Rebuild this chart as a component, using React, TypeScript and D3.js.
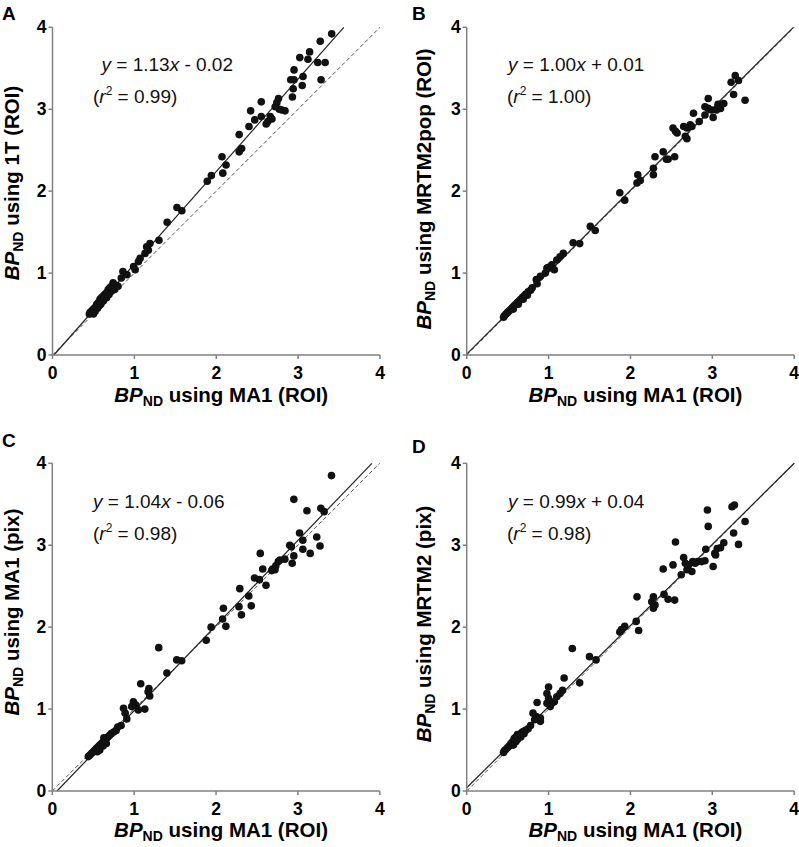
import React from 'react';
import * as d3 from 'd3';

const tickValues = [0, 1, 2, 3, 4];

const pointsA: [number, number][] = [
  [3.41,3.92],[3.27,3.83],[3.14,3.70],[3.02,3.63],[3.12,3.61],[3.24,3.57],[3.33,3.57],[2.95,3.48],[2.91,3.36],[2.95,3.36],
  [3.06,3.40],[3.28,3.36],[2.94,3.25],[3.05,3.29],[2.93,3.15],[2.76,3.13],[2.74,3.08],[2.72,3.03],[2.77,3.00],[2.80,2.99],
  [2.84,2.98],[2.55,3.09],[2.42,2.98],[2.55,2.91],[2.47,2.87],[2.66,2.91],[2.63,2.85],[2.61,2.82],[2.68,2.88],[2.40,2.79],
  [2.28,2.69],[2.31,2.52],[2.28,2.48],[2.07,2.42],[2.12,2.32],[2.08,2.22],[1.94,2.19],[1.89,2.12],[1.52,1.80],[1.58,1.76],
  [1.40,1.62],[1.30,1.40],[1.19,1.36],[1.15,1.32],[1.17,1.28],[1.13,1.24],[1.07,1.18],[1.05,1.14],[0.99,1.08],[1.01,1.04],
  [0.86,1.02],[0.91,0.98],[0.84,0.94],[0.74,0.88],[0.78,0.85],[0.72,0.84],[0.70,0.82],[0.76,0.80],[0.68,0.80],[0.66,0.76],
  [0.72,0.78],[0.64,0.74],[0.62,0.72],[0.60,0.70],[0.66,0.70],[0.58,0.68],[0.61,0.66],[0.56,0.64],[0.59,0.62],[0.54,0.62],
  [0.57,0.60],[0.52,0.58],[0.55,0.57],[0.50,0.56],[0.48,0.54],[0.52,0.53],[0.46,0.52],[0.45,0.50],[0.50,0.50],[0.63,0.68],
  [0.69,0.74],[0.80,0.84],[0.62,0.66],
];

const pointsB: [number, number][] = [
  [3.28,3.41],[3.23,3.33],[3.32,3.35],[3.26,3.18],[3.40,3.11],[2.95,3.13],[2.91,3.03],[2.95,3.01],[2.99,2.99],[3.07,3.06],
  [3.10,3.01],[3.14,3.07],[3.05,2.99],[2.91,2.93],[3.01,2.90],[2.84,2.85],[2.77,2.95],[2.73,2.81],[2.69,2.77],[2.65,2.79],
  [2.75,2.79],[2.52,2.77],[2.55,2.73],[2.57,2.71],[2.67,2.67],[2.69,2.64],[2.40,2.48],[2.44,2.39],[2.46,2.39],[2.54,2.42],
  [2.30,2.42],[2.28,2.28],[2.28,2.20],[2.09,2.20],[2.08,2.10],[2.12,2.13],[1.87,1.98],[1.93,1.89],[1.51,1.57],[1.57,1.52],
  [1.30,1.37],[1.38,1.36],[1.18,1.24],[1.14,1.20],[1.10,1.16],[1.04,1.10],[1.00,1.07],[1.07,1.04],[0.98,1.06],[0.96,1.00],
  [0.85,0.92],[0.86,0.87],[0.90,0.96],[0.80,0.82],[0.78,0.79],[0.75,0.77],[0.72,0.74],[0.70,0.72],[0.68,0.70],[0.66,0.68],
  [0.64,0.66],[0.62,0.64],[0.60,0.62],[0.58,0.60],[0.56,0.58],[0.54,0.56],[0.52,0.54],[0.50,0.52],[0.48,0.50],[0.46,0.48],
  [0.45,0.46],[0.63,0.62],[0.57,0.56],[0.69,0.68],[0.74,0.73],
];

const pointsC: [number, number][] = [
  [3.41,3.85],[2.95,3.56],[3.11,3.42],[3.28,3.45],[3.32,3.41],[3.02,3.15],[3.23,3.10],[3.27,2.99],[3.06,3.06],[3.06,2.95],
  [3.15,2.90],[2.90,3.00],[2.92,2.98],[2.95,2.87],[2.93,2.78],[2.84,2.83],[2.76,2.80],[2.78,2.82],[2.69,2.71],[2.72,2.70],
  [2.68,2.69],[2.73,2.75],[2.54,2.90],[2.57,2.71],[2.53,2.58],[2.61,2.51],[2.47,2.60],[2.29,2.47],[2.40,2.38],[2.43,2.26],
  [2.31,2.15],[2.28,2.25],[2.09,2.23],[2.08,2.10],[2.12,2.01],[1.94,2.00],[1.88,1.84],[1.30,1.75],[1.52,1.60],[1.58,1.59],
  [1.40,1.44],[1.08,1.31],[1.18,1.25],[1.17,1.21],[1.19,1.16],[1.13,1.00],[0.99,1.09],[1.02,1.05],[1.05,0.99],[0.87,1.01],
  [0.89,0.95],[0.97,1.03],[0.91,0.88],[0.84,0.80],[0.80,0.78],[0.78,0.74],[0.75,0.72],[0.72,0.70],[0.70,0.68],[0.68,0.66],
  [0.66,0.64],[0.64,0.62],[0.62,0.60],[0.65,0.58],[0.60,0.58],[0.58,0.56],[0.62,0.55],[0.56,0.54],[0.54,0.52],[0.52,0.50],
  [0.50,0.48],[0.48,0.46],[0.46,0.44],[0.44,0.42],[0.58,0.50],[0.66,0.58],[0.63,0.65],[0.55,0.48],
];

const pointsD: [number, number][] = [
  [3.27,3.49],[3.24,3.47],[2.94,3.43],[2.95,3.23],[3.40,3.29],[3.26,3.15],[3.32,3.01],[3.14,3.03],[3.10,2.97],[3.06,2.96],
  [3.03,2.90],[3.04,2.88],[2.92,2.95],[2.91,2.81],[3.01,2.74],[2.55,3.04],[2.65,2.85],[2.52,2.76],[2.40,2.71],[2.67,2.78],
  [2.71,2.76],[2.76,2.80],[2.79,2.78],[2.82,2.80],[2.87,2.80],[2.69,2.70],[2.75,2.68],[2.62,2.64],[2.08,2.37],[2.28,2.37],
  [2.26,2.31],[2.30,2.27],[2.28,2.23],[2.41,2.40],[2.46,2.34],[2.54,2.33],[2.07,2.07],[2.10,1.96],[1.93,2.01],[1.87,1.94],
  [1.89,1.97],[1.29,1.74],[1.50,1.64],[1.58,1.60],[1.38,1.32],[1.19,1.38],[1.17,1.23],[1.14,1.19],[1.10,1.15],[1.00,1.27],
  [0.98,1.19],[0.98,1.07],[1.04,1.07],[1.07,1.09],[1.02,1.03],[1.00,1.13],[0.86,1.08],[0.81,0.95],[0.85,0.91],[0.83,0.87],
  [0.90,0.89],[0.90,0.85],[0.78,0.80],[0.75,0.76],[0.72,0.74],[0.70,0.73],[0.68,0.72],[0.66,0.70],[0.64,0.68],[0.62,0.69],
  [0.60,0.66],[0.62,0.63],[0.58,0.64],[0.56,0.60],[0.60,0.60],[0.54,0.58],[0.52,0.55],[0.50,0.53],[0.48,0.51],[0.46,0.49],
  [0.45,0.47],[0.66,0.66],[0.70,0.70],[0.57,0.56],
];

const panelLetters = ['A', 'B', 'C', 'D'];
const slopes = [1.13, 1.00, 1.04, 0.99];
const intercepts = [-0.02, 0.01, -0.06, 0.04];
const equationTexts = ['1.13', '1.00', '1.04', '0.99'];
const interceptTexts = ['- 0.02', '+ 0.01', '- 0.06', '+ 0.04'];
const r2Texts = ['0.99', '1.00', '0.98', '0.98'];
const yLabelMethods = ['1T (ROI)', 'MRTM2pop (ROI)', 'MA1 (pix)', 'MRTM2 (pix)'];
const xLabelMethod = 'MA1 (ROI)';
const allPoints = [pointsA, pointsB, pointsC, pointsD];

const FONT = "'Liberation Sans', Arial, Helvetica, sans-serif";

interface PanelProps {
  idx: number;
  x0: number;
  yTop: number;
  letterPos: [number, number];
  eqPos: [number, number];
  r2Pos: [number, number];
  yLabelX: number;
  yLabelCenter: number;
  xLabelGap: number;
}

function Panel({ idx, x0, yTop, letterPos, eqPos, r2Pos, yLabelX, yLabelCenter, xLabelGap }: PanelProps) {
  const W = 327.5;
  const H = 327.7;
  const x = d3.scaleLinear().domain([0, 4]).range([x0, x0 + W]);
  const y = d3.scaleLinear().domain([0, 4]).range([yTop + H, yTop]);
  const slope = slopes[idx];
  const b = intercepts[idx];
  const xStart = Math.max(0, -b / slope);
  const xEnd = Math.min(4, (4 - b) / slope);
  const line = d3.line<[number, number]>().x(d => x(d[0])).y(d => y(d[1]));
  const fitPath = line([[xStart, slope * xStart + b], [xEnd, slope * xEnd + b]]);
  const idPath = line([[0, 0], [4, 4]]);
  const axisColor = '#808080';
  const y0 = y(0);
  const xc = (x(0) + x(4)) / 2 + 5;
  return (
    <g fontFamily={FONT}>
      <text x={letterPos[0]} y={letterPos[1]} fontSize={19} fontWeight="bold">{panelLetters[idx]}</text>
      <path d={idPath || ''} stroke="#555" strokeWidth={1} strokeDasharray="4,2.5" fill="none" />
      <path d={fitPath || ''} stroke="#222" strokeWidth={1.2} fill="none" />
      <line x1={x(0)} x2={x(4)} y1={y0} y2={y0} stroke={axisColor} strokeWidth={1.5} />
      <line x1={x(0)} x2={x(0)} y1={y(0)} y2={y(4)} stroke={axisColor} strokeWidth={1.5} />
      {tickValues.map(t => (
        <g key={'xt' + t}>
          <line x1={x(t)} x2={x(t)} y1={y0} y2={y0 + 4} stroke={axisColor} strokeWidth={1.5} />
          <text x={x(t)} y={y0 + 24} textAnchor="middle" fontSize={17.5} fontWeight="bold">{t}</text>
        </g>
      ))}
      {tickValues.map(t => (
        <g key={'yt' + t}>
          <line x1={x(0) - 4} x2={x(0)} y1={y(t)} y2={y(t)} stroke={axisColor} strokeWidth={1.5} />
          <text x={x(0) - 6} y={y(t) + 6} textAnchor="end" fontSize={17.5} fontWeight="bold">{t}</text>
        </g>
      ))}
      {allPoints[idx].map((p, i) => (
        <circle key={i} cx={x(p[0])} cy={y(p[1])} r={3.8} fill="#111" />
      ))}
      <text x={eqPos[0]} y={eqPos[1]} fontSize={19} fill="#111">
        <tspan fontStyle="italic">y</tspan>
        <tspan>{' = ' + equationTexts[idx]}</tspan>
        <tspan fontStyle="italic">x</tspan>
        <tspan>{' ' + interceptTexts[idx]}</tspan>
      </text>
      <text x={r2Pos[0]} y={r2Pos[1]} fontSize={19} fill="#111">
        <tspan>(</tspan>
        <tspan fontStyle="italic">r</tspan>
        <tspan fontSize={12} dy={-8}>2</tspan>
        <tspan dy={8}>{' = ' + r2Texts[idx] + ')'}</tspan>
      </text>
      <text x={xc} y={y0 + xLabelGap} textAnchor="middle" fontSize={20.5} fontWeight="bold">
        <tspan fontStyle="italic">BP</tspan>
        <tspan fontSize={14} dy={4}>ND</tspan>
        <tspan dy={-4}>{' using ' + xLabelMethod}</tspan>
      </text>
      <text transform={`translate(${yLabelX},${yLabelCenter}) rotate(-90)`} textAnchor="middle" fontSize={20.5} fontWeight="bold">
        <tspan fontStyle="italic">BP</tspan>
        <tspan fontSize={14} dy={4}>ND</tspan>
        <tspan dy={-4}>{' using ' + yLabelMethods[idx]}</tspan>
      </text>
    </g>
  );
}

export default function App() {
  return (
    <svg width={799} height={847} style={{ position: 'absolute', left: 0, top: 0, background: '#fff' }}>
      <rect width={799} height={847} fill="#fff" />
      <Panel idx={0} x0={52.5} yTop={27.3} letterPos={[2, 20]} eqPos={[101.5, 71]} r2Pos={[93, 103]} yLabelX={19} yLabelCenter={183} xLabelGap={47} />
      <Panel idx={1} x0={466.7} yTop={27.3} letterPos={[412, 20]} eqPos={[508, 71]} r2Pos={[507, 103]} yLabelX={431} yLabelCenter={189} xLabelGap={47} />
      <Panel idx={2} x0={52.3} yTop={463.3} letterPos={[2, 447]} eqPos={[93, 508]} r2Pos={[93, 540]} yLabelX={19} yLabelCenter={612} xLabelGap={46} />
      <Panel idx={3} x0={466.7} yTop={463.3} letterPos={[412, 453]} eqPos={[508, 508]} r2Pos={[507, 540]} yLabelX={431} yLabelCenter={624} xLabelGap={46} />
    </svg>
  );
}
